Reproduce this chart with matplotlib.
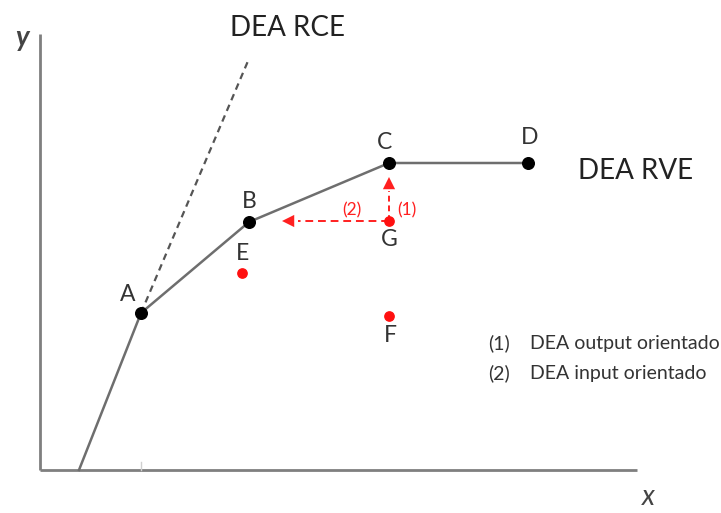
import matplotlib
matplotlib.use("Agg")
import matplotlib.pyplot as plt

plt.rcParams['font.family'] = ['Lato', 'DejaVu Sans']

# Frontier (VRS) points
front_labels = ["A", "B", "C", "D"]
front_x = [10.1, 20.9, 34.9, 48.8]
front_y = [15.7, 24.8, 30.7, 30.7]
front_start = (3.9, 0.0)

# Inefficient units
ineff_labels = ["E", "F", "G"]
ineff_x = [20.2, 34.9, 34.9]
ineff_y = [19.7, 15.4, 24.9]

# CRS ray end
rce_end = (20.8, 40.9)

fig = plt.figure(figsize=(7.21, 5.13), dpi=100)
ax = fig.add_axes([0, 0, 1, 1])
ax.set_xlim(-4.0, 68.1)
ax.set_ylim(-4.3, 47.0)
ax.axis('off')

axis_col = '#7f7f7f'
ax.plot([0, 0], [0, 43.6], color=axis_col, lw=2.0, solid_capstyle='butt')
ax.plot([0, 59.7], [0, 0], color=axis_col, lw=2.0, solid_capstyle='butt')
ax.plot([front_x[0], front_x[0]], [0, 0.8], color='#d0d0d0', lw=1.0)

# VRS frontier
ax.plot([front_start[0]] + front_x, [front_start[1]] + front_y, color='#6e6e6e', lw=1.8, zorder=2)
# CRS dashed ray
ax.plot([front_x[0], rce_end[0]], [front_y[0], rce_end[1]], color='#555555', lw=1.6,
        linestyle=(0, (3, 2.2)), zorder=2)

ax.scatter(front_x, front_y, s=70, color='black', zorder=4)
ax.scatter(ineff_x, ineff_y, s=45, color='#ff1010', zorder=4)

red = '#ff2020'
gx, gy = ineff_x[2], ineff_y[2]
# (2) input-oriented arrow
ax.plot([gx, 25.8], [gy, gy], color=red, lw=1.4, linestyle=(0, (4, 2.5)), zorder=3)
ax.annotate('', xy=(24.2, gy), xytext=(26.2, gy),
            arrowprops=dict(arrowstyle='-|>', color=red, lw=0, mutation_scale=22,
                            shrinkA=0, shrinkB=0))
# (1) output-oriented arrow
ax.plot([gx, gx], [gy, 27.9], color=red, lw=1.4, linestyle=(0, (3, 2)), zorder=3)
ax.annotate('', xy=(gx, 29.3), xytext=(gx, 27.6),
            arrowprops=dict(arrowstyle='-|>', color=red, lw=0, mutation_scale=22,
                            shrinkA=0, shrinkB=0))

lab_col = '#333333'
fs = 16.5
ax.text(front_x[0] - 1.3, front_y[0] + 0.8, "A", fontsize=fs, color=lab_col, ha='center', va='bottom')
ax.text(front_x[1], front_y[1] + 1.0, "B", fontsize=fs, color=lab_col, ha='center', va='bottom')
ax.text(front_x[2] - 0.4, front_y[2] + 1.0, "C", fontsize=fs, color=lab_col, ha='center', va='bottom')
ax.text(front_x[3] + 0.2, front_y[3] + 1.5, "D", fontsize=fs, color=lab_col, ha='center', va='bottom')
ax.text(ineff_x[0], ineff_y[0] + 0.9, "E", fontsize=fs, color=lab_col, ha='center', va='bottom')
ax.text(ineff_x[1] + 0.1, ineff_y[1] - 0.9, "F", fontsize=fs, color=lab_col, ha='center', va='top')
ax.text(ineff_x[2], ineff_y[2] - 0.8, "G", fontsize=fs, color=lab_col, ha='center', va='top')

ax.text(31.2, 25.2, "(2)", fontsize=12.5, color=red, ha='center', va='bottom')
ax.text(36.7, 25.2, "(1)", fontsize=12.5, color=red, ha='center', va='bottom')

ax.text(24.7, 45.5, "DEA RCE", fontsize=20, color='#222222', ha='center', va='top')
ax.text(59.6, 29.9, "DEA RVE", fontsize=20, color='#222222', ha='center', va='center')

ax.text(-1.8, 43.2, "y", fontsize=20, color='#444444', style='italic', ha='center', va='center', fontweight='bold')
ax.text(60.8, -2.7, "x", fontsize=20, color='#444444', style='italic', ha='center', va='center')

leg_fs = 14
ax.text(44.8, 12.7, "(1)", fontsize=leg_fs, color='#333333', ha='left', va='center')
ax.text(49.0, 12.7, "DEA output orientado", fontsize=leg_fs, color='#333333', ha='left', va='center')
ax.text(44.8, 9.7, "(2)", fontsize=leg_fs, color='#333333', ha='left', va='center')
ax.text(49.0, 9.7, "DEA input orientado", fontsize=leg_fs, color='#333333', ha='left', va='center')

fig.savefig("out.png", dpi=100)
